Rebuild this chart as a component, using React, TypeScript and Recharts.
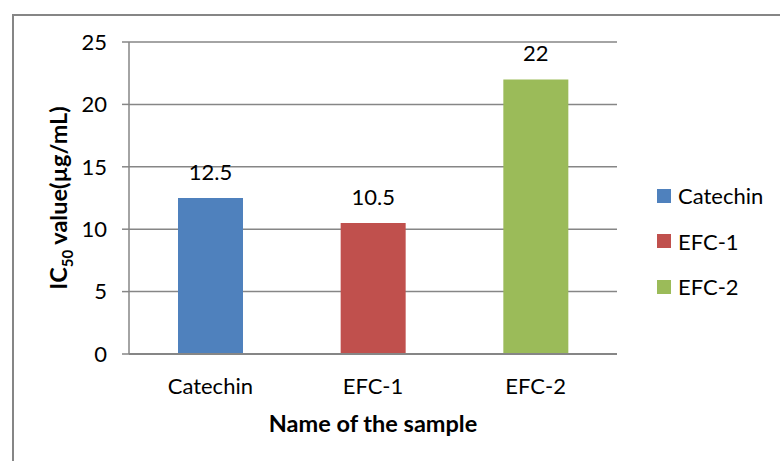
import React from "react";
import {
  BarChart,
  Bar,
  Cell,
  CartesianGrid,
  XAxis,
  YAxis,
  LabelList,
} from "recharts";

const samples = ["Catechin", "EFC-1", "EFC-2"];
const ic50Values = [12.5, 10.5, 22];
const barColors = ["#4F81BD", "#C0504D", "#9BBB59"];
const yTicks = [0, 5, 10, 15, 20, 25];

const data = samples.map((name, i) => ({ name, value: ic50Values[i] }));

const FONT = "Lato, 'Open Sans', sans-serif";

const YLabel = () => (
  <text
    x={0}
    y={0}
    transform="translate(67, 198) rotate(-90)"
    textAnchor="middle"
    fontFamily={FONT}
    fontWeight="bold"
    fontSize={23.5}
    fill="#000"
  >
    IC
    <tspan fontSize={15} dy={6}>50</tspan>
    <tspan dy={-6}> value(µg/mL)</tspan>
  </text>
);

const LegendBox = () => (
  <div
    style={{
      position: "absolute",
      left: 657,
      top: 173,
      fontFamily: FONT,
      fontSize: 22,
      color: "#000",
    }}
  >
    {samples.map((s, i) => (
      <div
        key={s}
        style={{ display: "flex", alignItems: "center", height: 45.5 }}
      >
        <span
          style={{
            display: "inline-block",
            width: 14,
            height: 14,
            background: barColors[i],
            marginRight: 7,
          }}
        />
        {s}
      </div>
    ))}
  </div>
);

const App: React.FC = () => {
  return (
    <div
      style={{
        position: "absolute",
        top: 0,
        left: 0,
        width: 780,
        height: 461,
        overflow: "hidden",
        background: "#fff",
      }}
    >
      <div
        style={{
          position: "absolute",
          left: 12,
          top: 14,
          width: 800,
          height: 480,
          border: "2px solid #868686",
          boxSizing: "border-box",
        }}
      />
      <div style={{ position: "absolute", left: 0, top: 0 }}>
        <BarChart
          width={780}
          height={461}
          data={data}
          margin={{ top: 42, right: 163, bottom: 0, left: 69 }}
        >
          <CartesianGrid
            vertical={false}
            stroke="#868686"
            strokeWidth={1.5}
          />
          <XAxis
            dataKey="name"
            tickLine={false}
            axisLine={{ stroke: "#868686", strokeWidth: 2 }}
            tick={{ fill: "#000", fontSize: 22, fontFamily: FONT }}
            tickMargin={18}
            label={{
              value: "Name of the sample",
              position: "insideBottom",
              offset: 29,
              fill: "#000",
              fontSize: 23.5,
              fontWeight: "bold",
              fontFamily: FONT,
            }}
            height={107}
          />
          <YAxis
            width={60}
            domain={[0, 25]}
            ticks={yTicks}
            tickSize={7}
            tickMargin={15}
            tickLine={{ stroke: "#868686", strokeWidth: 1.5 }}
            axisLine={{ stroke: "#868686", strokeWidth: 1.5 }}
            tick={{ fill: "#000", fontSize: 22, fontFamily: FONT }}
            label={<YLabel />}
          />
          <Bar dataKey="value" barSize={65} isAnimationActive={false}>
            {data.map((d, i) => (
              <Cell key={d.name} fill={barColors[i]} />
            ))}
            <LabelList
              dataKey="value"
              position="top"
              offset={18}
              fill="#000"
              fontSize={22}
              fontFamily={FONT}
            />
          </Bar>
        </BarChart>
      </div>
      <LegendBox />
    </div>
  );
};

export default App;
